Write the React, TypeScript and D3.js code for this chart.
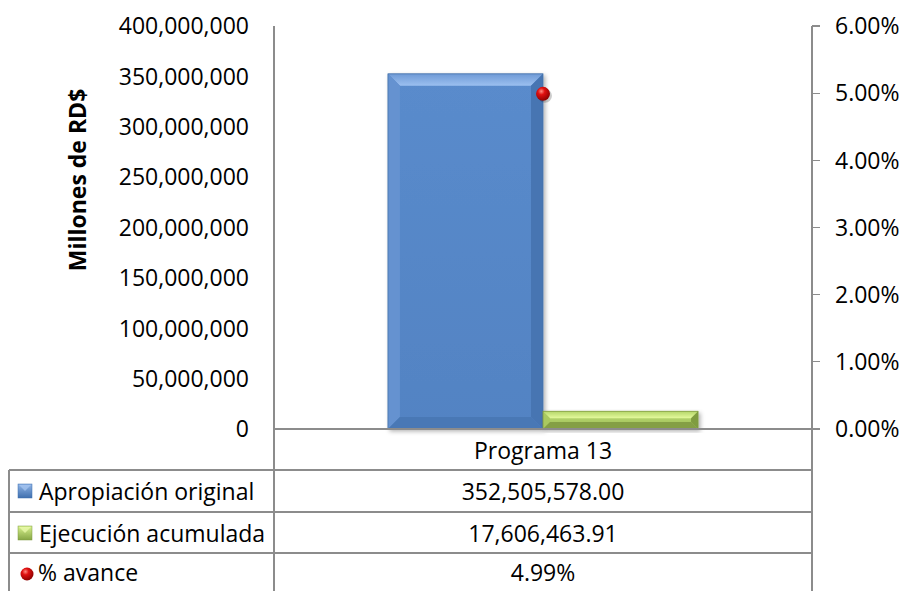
import React from "react";
import * as d3 from "d3";

const categories = ["Programa 13"];
const seriesNames = ["Apropiación original", "Ejecución acumulada"];
const apropiacion = [352505578.0];
const ejecucion = [17606463.91];
const avance = [0.0499];
const avanceLabel = "% avance";
const leftTicks = [0, 50e6, 100e6, 150e6, 200e6, 250e6, 300e6, 350e6, 400e6];
const rightTicks = [0, 0.01, 0.02, 0.03, 0.04, 0.05, 0.06];
const yAxisTitle = "Millones de RD$";

const W = 909;
const H = 591;
const FONT = "'Open Sans', 'Noto Sans', sans-serif";
const GRID = "#8c8c8c";

export default function App() {
  const plotLeft = 274;
  const plotRight = 812;
  const plotTop = 26;
  const plotBottom = 429;
  const tableLeft = 9;
  const rowLines = [470, 512, 553, 591];

  const yL = d3.scaleLinear().domain([0, 400e6]).range([plotBottom, plotTop]);
  const yR = d3.scaleLinear().domain([0, 0.06]).range([plotBottom, plotTop]);
  const x = d3.scaleBand<string>().domain(categories).range([plotLeft, plotRight]).padding(0);
  const gap = 1.47;
  const bw = x.bandwidth();
  const barW = bw / (2 + gap);
  const inner = d3
    .scaleBand<string>()
    .domain(seriesNames)
    .range([(barW * gap) / 2, bw - (barW * gap) / 2])
    .padding(0);

  const fmtL = d3.format(",");
  const fmtR = d3.format(".2%");
  const fmtV = d3.format(",.2f");

  const bevelBar = (
    x0: number,
    y0: number,
    w: number,
    h: number,
    b: number,
    ids: { body: string; top: string },
    c: { left: string; right: string; bottom: string; edge: string }
  ) => {
    const x1 = x0 + w;
    const y1 = y0 + h;
    const bb = Math.min(b, h / 2, w / 2);
    return (
      <g filter="url(#shadow)">
        <rect x={x0} y={y0} width={w} height={h} fill={`url(#${ids.body})`} />
        <polygon points={`${x0},${y0} ${x1},${y0} ${x1 - bb},${y0 + bb} ${x0 + bb},${y0 + bb}`} fill={`url(#${ids.top})`} />
        <polygon points={`${x0},${y0} ${x0 + bb},${y0 + bb} ${x0 + bb},${y1 - bb} ${x0},${y1}`} fill={c.left} />
        <polygon points={`${x1},${y0} ${x1 - bb},${y0 + bb} ${x1 - bb},${y1 - bb} ${x1},${y1}`} fill={c.right} />
        <polygon points={`${x0},${y1} ${x0 + bb},${y1 - bb} ${x1 - bb},${y1 - bb} ${x1},${y1}`} fill={c.bottom} />
        <rect x={x0} y={y0} width={w} height={h} fill="none" stroke={c.edge} strokeWidth={0.8} />
      </g>
    );
  };

  const cat = categories[0];
  const bx = x(cat)!;
  const blueX = bx + inner(seriesNames[0])!;
  const greenX = bx + inner(seriesNames[1])!;
  const blueY = yL(apropiacion[0]);
  const greenY = yL(ejecucion[0]);
  const dotX = x(cat)! + bw / 2;
  const dotY = yR(avance[0]);

  const rowCenters = [449.5, 491, 532.5, 572];
  const colCenter = (plotLeft + plotRight) / 2;

  return (
    <svg
      width={W}
      height={H}
      style={{ position: "absolute", left: 0, top: 0, background: "#fff" }}
      fontFamily={FONT}
    >
      <defs>
        <filter id="shadow" x="-10%" y="-10%" width="130%" height="130%">
          <feDropShadow dx="2" dy="2" stdDeviation="2" floodColor="#000" floodOpacity="0.3" />
        </filter>
        <linearGradient id="blueBody" x1="0" y1="0" x2="0" y2="1">
          <stop offset="0" stopColor="#5a8bcc" />
          <stop offset="1" stopColor="#5283c3" />
        </linearGradient>
        <linearGradient id="blueTop" x1="0" y1="0" x2="0" y2="1">
          <stop offset="0" stopColor="#6f9ad6" />
          <stop offset="1" stopColor="#9cc0f0" />
        </linearGradient>
        <linearGradient id="greenBody" x1="0" y1="0" x2="0" y2="1">
          <stop offset="0" stopColor="#c2e278" />
          <stop offset="1" stopColor="#98b855" />
        </linearGradient>
        <linearGradient id="greenTop" x1="0" y1="0" x2="0" y2="1">
          <stop offset="0" stopColor="#b5d66a" />
          <stop offset="1" stopColor="#e4fa9c" />
        </linearGradient>
        <radialGradient id="redDot" cx="0.38" cy="0.32" r="0.7">
          <stop offset="0" stopColor="#ff8a80" />
          <stop offset="0.35" stopColor="#e01010" />
          <stop offset="1" stopColor="#8a0000" />
        </radialGradient>
        <linearGradient id="legBlue" x1="0" y1="0" x2="0" y2="1">
          <stop offset="0" stopColor="#8fb4e6" />
          <stop offset="1" stopColor="#3f6fae" />
        </linearGradient>
        <linearGradient id="legGreen" x1="0" y1="0" x2="0" y2="1">
          <stop offset="0" stopColor="#d8f28e" />
          <stop offset="1" stopColor="#86a645" />
        </linearGradient>
      </defs>

      {/* bars */}
      {bevelBar(
        blueX,
        blueY,
        inner.bandwidth(),
        yL(0) - blueY,
        12,
        { body: "blueBody", top: "blueTop" },
        { left: "#6592d0", right: "#4775b2", bottom: "#4a78b5", edge: "#4470a8" }
      )}
      {bevelBar(
        greenX,
        greenY,
        inner.bandwidth(),
        yL(0) - greenY,
        7,
        { body: "greenBody", top: "greenTop" },
        { left: "#a9c960", right: "#7f9c40", bottom: "#849f44", edge: "#7f9a40" }
      )}

      {/* axes and table lines */}
      <g stroke={GRID} strokeWidth={1.3} fill="none" shapeRendering="crispEdges">
        <line x1={plotLeft} x2={plotLeft} y1={plotTop} y2={H} />
        <line x1={plotRight} x2={plotRight} y1={plotTop} y2={H} />
        <line x1={plotLeft} x2={plotRight} y1={plotBottom} y2={plotBottom} />
        <line x1={tableLeft} x2={tableLeft} y1={rowLines[0]} y2={H} />
        {rowLines.slice(0, 3).map((ry) => (
          <line key={ry} x1={tableLeft} x2={plotRight} y1={ry} y2={ry} />
        ))}
        {rightTicks.map((t) => (
          <line key={t} x1={plotRight} x2={plotRight + 8} y1={yR(t)} y2={yR(t)} />
        ))}
      </g>

      {/* left tick labels */}
      <g fontSize={23} fill="#000" textAnchor="end">
        {leftTicks.map((t) => (
          <text key={t} x={249} y={yL(t)} dy="-0.03em" dominantBaseline="central">
            {fmtL(t)}
          </text>
        ))}
      </g>
      {/* right tick labels */}
      <g fontSize={23} fill="#000" textAnchor="start">
        {rightTicks.map((t) => (
          <text key={t} x={835} y={yR(t)} dy="-0.03em" dominantBaseline="central">
            {fmtR(t)}
          </text>
        ))}
      </g>

      {/* y axis title */}
      <text
        transform={`translate(86,180) rotate(-90)`}
        textAnchor="middle"
        fontSize={23}
        fontWeight="bold"
        fill="#000"
      >
        {yAxisTitle}
      </text>

      {/* dot */}
      <circle cx={dotX + 2} cy={dotY + 2} r={7} fill="#000" opacity={0.2} />
      <circle cx={dotX} cy={dotY} r={7} fill="url(#redDot)" />

      {/* table text */}
      <g fontSize={23} fill="#000">
        <text x={colCenter} y={rowCenters[0]} textAnchor="middle" dominantBaseline="central">
          {cat}
        </text>
        <text x={colCenter} y={rowCenters[1]} textAnchor="middle" dominantBaseline="central">
          {fmtV(apropiacion[0])}
        </text>
        <text x={colCenter} y={rowCenters[2]} textAnchor="middle" dominantBaseline="central">
          {fmtV(ejecucion[0])}
        </text>
        <text x={colCenter} y={rowCenters[3]} textAnchor="middle" dominantBaseline="central">
          {fmtR(avance[0])}
        </text>

        <rect x={18} y={484} width={14} height={14} fill="url(#legBlue)" stroke="#3f6fae" strokeWidth={0.5} />
        <polygon points="19,485 31,485 25,491" fill="#a9c8f2" opacity={0.7} />
        <text x={39} y={rowCenters[1]} dominantBaseline="central">
          {seriesNames[0]}
        </text>
        <rect x={18} y={526} width={14} height={14} fill="url(#legGreen)" stroke="#7f9a40" strokeWidth={0.5} />
        <polygon points="19,527 31,527 25,533" fill="#eefcb0" opacity={0.7} />
        <text x={39} y={rowCenters[2]} dominantBaseline="central">
          {seriesNames[1]}
        </text>
        <circle cx={27} cy={574} r={6.5} fill="url(#redDot)" />
        <text x={38} y={rowCenters[3]} dominantBaseline="central">
          {avanceLabel}
        </text>
      </g>
    </svg>
  );
}
